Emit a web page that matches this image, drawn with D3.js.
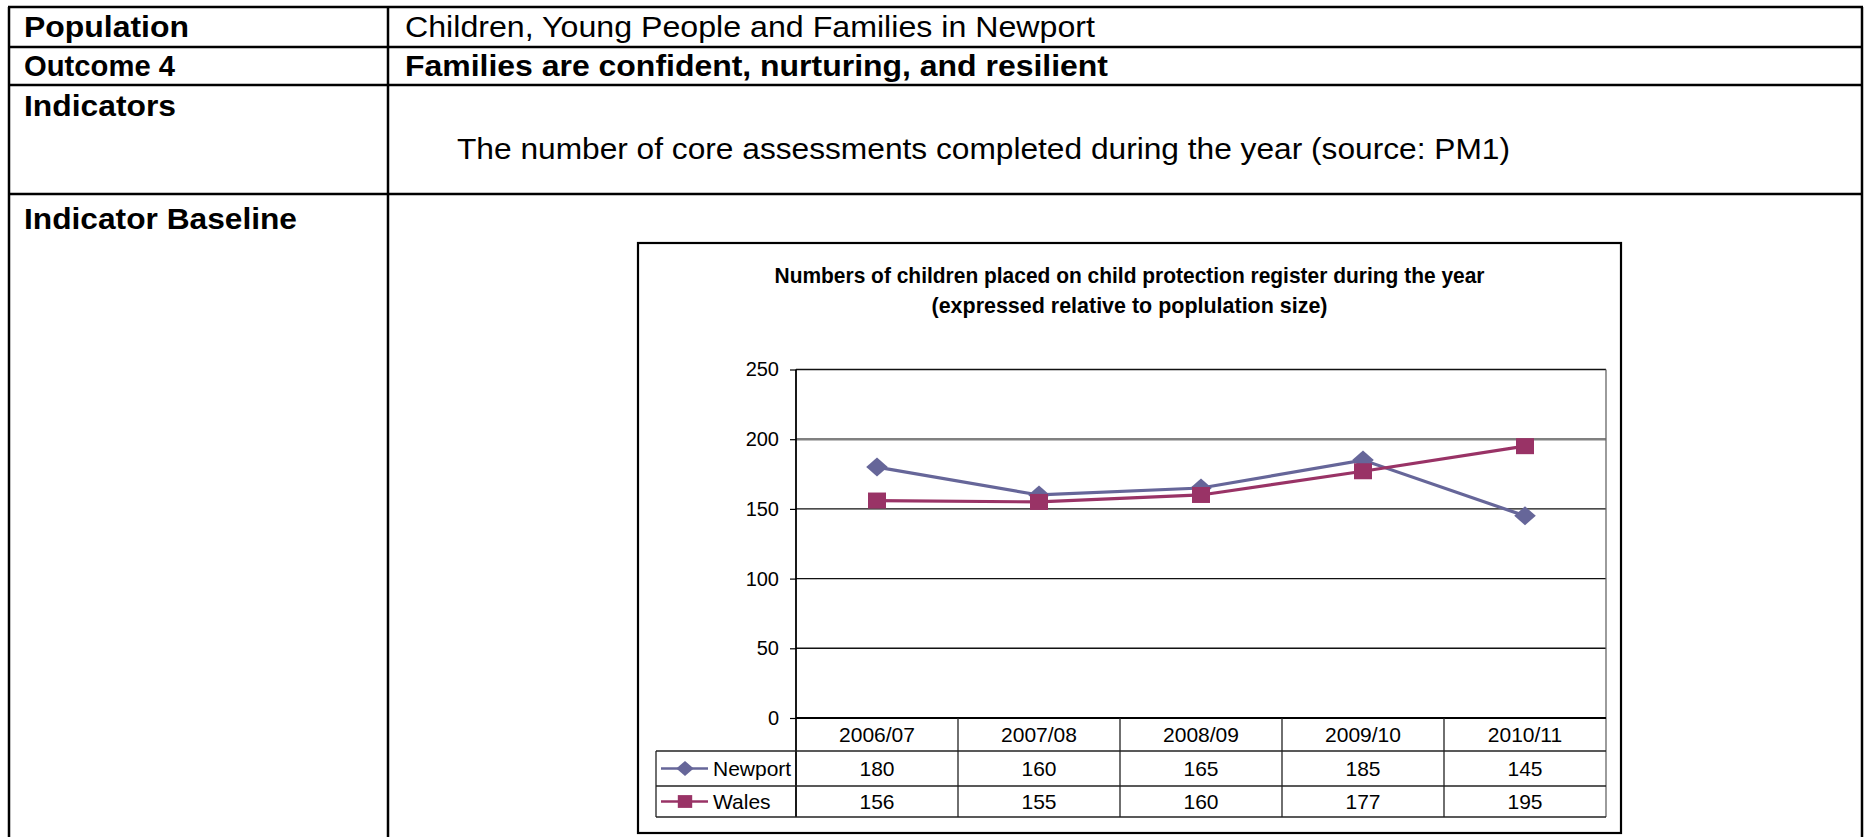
<!DOCTYPE html>
<html lang="en">
  <head>
    <meta charset="UTF-8" />
    <title>Outcome 4 - core assessments</title>
    <script src="https://d3js.org/d3.v7.min.js"></script>
    <style>
      html,
      body {
        margin: 0;
        padding: 0;
        background: #fff;
      }
      svg text {
        font-family: "Liberation Sans", Arial, sans-serif;
        fill: #000;
      }
      .frame {
        stroke: #000;
        stroke-width: 2.5px;
      }
      .cell-label {
        font-size: 30px;
        font-weight: bold;
      }
      .cell-text {
        font-size: 29px;
      }
      .chart-title {
        font-size: 22px;
        font-weight: bold;
      }
      .tick-label {
        font-size: 20px;
      }
      .table-text {
        font-size: 21px;
      }
    </style>
  </head>
  <body>
    <svg id="page" width="1869" height="837"></svg>

    <script>
      // chart data
      const years = ["2006/07", "2007/08", "2008/09", "2009/10", "2010/11"];
      const newport = [180, 160, 165, 185, 145];
      const wales = [156, 155, 160, 177, 195];
      const yTicks = [0, 50, 100, 150, 200, 250];

      const series = [
        { name: "Newport", values: newport, color: "#666699", shape: "diamond" },
        { name: "Wales", values: wales, color: "#993366", shape: "square" },
      ];

      const svg = d3.select("#page");

      // ---- outer document table ----
      const tLeft = 9,
        tRight = 1862,
        tDiv = 388;
      const rowLines = [7, 47, 85, 194];

      const frame = svg.append("g").attr("class", "frame");
      rowLines.forEach((y) =>
        frame.append("line").attr("x1", tLeft - 1).attr("x2", tRight + 1).attr("y1", y).attr("y2", y)
      );
      [tLeft, tDiv, tRight].forEach((x) =>
        frame.append("line").attr("x1", x).attr("x2", x).attr("y1", rowLines[0]).attr("y2", 840)
      );

      // left column labels: [text, baseline, width]
      const rowLabels = [
        ["Population", 37, 165],
        ["Outcome 4", 76, 151],
        ["Indicators", 116, 152],
        ["Indicator Baseline", 229, 273],
      ];
      svg
        .selectAll(".cell-label.left")
        .data(rowLabels)
        .join("text")
        .attr("class", "cell-label left")
        .attr("x", 24)
        .attr("y", (d) => d[1])
        .attr("textLength", (d) => d[2])
        .attr("lengthAdjust", "spacingAndGlyphs")
        .text((d) => d[0]);

      svg
        .append("text")
        .attr("class", "cell-text")
        .attr("x", 405)
        .attr("y", 37)
        .attr("textLength", 690)
        .attr("lengthAdjust", "spacingAndGlyphs")
        .text("Children, Young People and Families in Newport");

      svg
        .append("text")
        .attr("class", "cell-label")
        .attr("x", 405)
        .attr("y", 76)
        .attr("textLength", 703)
        .attr("lengthAdjust", "spacingAndGlyphs")
        .text("Families are confident, nurturing, and resilient");

      svg
        .append("text")
        .attr("class", "cell-text")
        .attr("x", 457)
        .attr("y", 159)
        .attr("textLength", 1053)
        .attr("lengthAdjust", "spacingAndGlyphs")
        .text("The number of core assessments completed during the year (source: PM1)");

      // ---- embedded chart ----
      const box = { x0: 638, x1: 1621, y0: 243, y1: 833 };
      const plot = { x0: 796, x1: 1606, y0: 369.5, y1: 718 };
      const tableRows = [718, 751, 786, 817];
      const keyLeft = 656;

      svg
        .append("rect")
        .attr("x", box.x0)
        .attr("y", box.y0)
        .attr("width", box.x1 - box.x0)
        .attr("height", box.y1 - box.y0)
        .attr("fill", "#fff")
        .attr("stroke", "#000")
        .attr("stroke-width", 2.2);

      const cx = (box.x0 + box.x1) / 2;
      svg
        .append("text")
        .attr("class", "chart-title")
        .attr("x", cx)
        .attr("y", 283)
        .attr("text-anchor", "middle")
        .attr("textLength", 710)
        .attr("lengthAdjust", "spacingAndGlyphs")
        .text("Numbers of children placed on child protection register during the year");
      svg
        .append("text")
        .attr("class", "chart-title")
        .attr("x", cx)
        .attr("y", 313)
        .attr("text-anchor", "middle")
        .attr("textLength", 396)
        .attr("lengthAdjust", "spacingAndGlyphs")
        .text("(expressed relative to poplulation size)");

      const x = d3.scaleBand().domain(years).range([plot.x0, plot.x1]);
      const y = d3.scaleLinear().domain([0, 250]).range([plot.y1, plot.y0]);
      const xc = (d) => x(d) + x.bandwidth() / 2;

      // gridlines
      svg
        .append("g")
        .selectAll("line")
        .data(yTicks.filter((t) => t > 0))
        .join("line")
        .attr("x1", plot.x0)
        .attr("x2", plot.x1)
        .attr("y1", (d) => y(d))
        .attr("y2", (d) => y(d))
        .attr("stroke", (d) => (d === 200 ? "#808080" : "#111"))
        .attr("stroke-width", (d) => (d === 200 ? 2.4 : 1.4));

      // y axis with outward ticks
      const yAxis = svg
        .append("g")
        .attr("transform", `translate(${plot.x0},0)`)
        .call(d3.axisLeft(y).tickValues(yTicks).tickSize(6).tickPadding(11));
      yAxis.select(".domain").remove();
      yAxis.selectAll(".tick line").attr("stroke", "#000").attr("stroke-width", 1.2);
      yAxis
        .selectAll(".tick text")
        .attr("class", "tick-label")
        .attr("font-family", null)
        .attr("font-size", null)
        .attr("fill", "#000");

      // data table grid
      const grid = svg.append("g").attr("stroke", "#222").attr("stroke-width", 1.3);
      grid
        .append("line")
        .attr("x1", plot.x0)
        .attr("x2", plot.x0)
        .attr("y1", plot.y0)
        .attr("y2", tableRows[3])
        .attr("stroke", "#000")
        .attr("stroke-width", 1.8);
      grid
        .append("line")
        .attr("x1", plot.x1)
        .attr("x2", plot.x1)
        .attr("y1", plot.y0)
        .attr("y2", tableRows[3])
        .attr("stroke", "#666");
      grid
        .append("line")
        .attr("x1", plot.x0)
        .attr("x2", plot.x1)
        .attr("y1", plot.y1)
        .attr("y2", plot.y1)
        .attr("stroke", "#000")
        .attr("stroke-width", 1.8);
      grid
        .selectAll(".col")
        .data(years.slice(1))
        .join("line")
        .attr("x1", (d) => x(d))
        .attr("x2", (d) => x(d))
        .attr("y1", tableRows[0])
        .attr("y2", tableRows[3]);
      grid
        .selectAll(".row")
        .data(tableRows.slice(1))
        .join("line")
        .attr("x1", keyLeft)
        .attr("x2", plot.x1)
        .attr("y1", (d) => d)
        .attr("y2", (d) => d);
      grid
        .append("line")
        .attr("x1", keyLeft)
        .attr("x2", keyLeft)
        .attr("y1", tableRows[1])
        .attr("y2", tableRows[3]);

      // category header
      svg
        .selectAll(".cat")
        .data(years)
        .join("text")
        .attr("class", "table-text")
        .attr("x", xc)
        .attr("y", (tableRows[0] + tableRows[1]) / 2 + 7.5)
        .attr("text-anchor", "middle")
        .text((d) => d);

      const marker = (g, s) => {
        if (s.shape === "diamond") {
          g.append("path")
            .attr("d", d3.symbol(d3.symbolSquare, 200)())
            .attr("transform", "scale(1.08,0.95) rotate(45)")
            .attr("fill", s.color);
        } else {
          g.append("rect")
            .attr("x", -9)
            .attr("y", -8)
            .attr("width", 18)
            .attr("height", 16)
            .attr("fill", s.color);
        }
      };

      // series lines + markers
      const line = d3
        .line()
        .x((d, i) => xc(years[i]))
        .y((d) => y(d));

      series.forEach((s, si) => {
        svg
          .append("path")
          .attr("d", line(s.values))
          .attr("fill", "none")
          .attr("stroke", s.color)
          .attr("stroke-width", 3.2);
        s.values.forEach((v, i) => {
          const g = svg.append("g").attr("transform", `translate(${xc(years[i])},${y(v)})`);
          marker(g, s);
        });

        // table row: key + values
        const rowMid = (tableRows[si + 1] + tableRows[si + 2]) / 2;
        svg
          .append("line")
          .attr("x1", 661)
          .attr("x2", 708)
          .attr("y1", rowMid)
          .attr("y2", rowMid)
          .attr("stroke", s.color)
          .attr("stroke-width", 2.5);
        const k = svg.append("g").attr("transform", `translate(685,${rowMid}) scale(0.8)`);
        marker(k, s);
        svg
          .append("text")
          .attr("class", "table-text")
          .attr("x", 713)
          .attr("y", rowMid + 7.5)
          .text(s.name);
        svg
          .selectAll(".val" + si)
          .data(s.values)
          .join("text")
          .attr("class", "table-text")
          .attr("x", (d, i) => xc(years[i]))
          .attr("y", rowMid + 7.5)
          .attr("text-anchor", "middle")
          .text((d) => d);
      });
    </script>
  </body>
</html>
